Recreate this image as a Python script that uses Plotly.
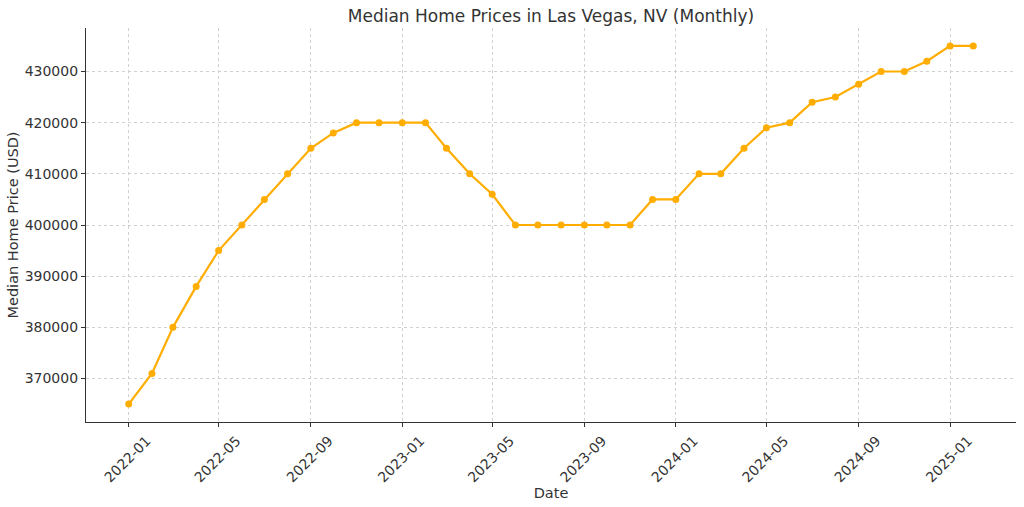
import plotly.graph_objects as go
import pandas as pd

dates = pd.date_range("2022-01-01", "2025-02-01", freq="MS")
prices = [365000, 371000, 380000, 388000, 395000, 400000, 405000, 410000, 415000, 418000,
          420000, 420000, 420000, 420000, 415000, 410000, 406000, 400000, 400000, 400000,
          400000, 400000, 400000, 405000, 405000, 410000, 410000, 415000, 419000, 420000,
          424000, 425000, 427500, 430000, 430000, 432000, 435000, 435000]
title = "Median Home Prices in Las Vegas, NV (Monthly)"
x_label = "Date"
y_label = "Median Home Price (USD)"

fig = go.Figure()
fig.add_trace(go.Scatter(
    x=dates, y=prices, mode="lines+markers",
    line=dict(color="#FFAD00", width=2.2),
    marker=dict(color="#FFAD00", size=7),
))

font = "DejaVu Sans"
fig.update_layout(
    width=1024, height=507,
    margin=dict(l=86, r=8, t=28, b=85),
    paper_bgcolor="white", plot_bgcolor="white",
    showlegend=False,
    font=dict(family=font, size=14, color="#333333"),
    title=dict(text=title, x=(86 + 1016) / 2 / 1024, xanchor="center",
               y=1 - 16 / 507, yanchor="middle",
               font=dict(size=17, color="#333333")),
)
fig.update_xaxes(
    range=["2021-11-05", "2025-03-30"],
    tick0="2022-01-01", dtick="M4", tickformat="%Y-%m",
    tickangle=-45, ticklabelshift=18,
    ticks="outside", ticklen=4, tickcolor="#333333",
    showline=True, linecolor="#333333", linewidth=1.2,
    showgrid=True, gridcolor="#d0d0d0", gridwidth=0.8, griddash="3px,3px",
    zeroline=False, automargin=False,
    title=dict(text=x_label, font=dict(size=14.5), standoff=2),
)
fig.update_yaxes(
    range=[361500, 438500],
    tickvals=[370000, 380000, 390000, 400000, 410000, 420000, 430000],
    tickformat="d",
    ticks="outside", ticklen=4, tickcolor="#333333",
    showline=True, linecolor="#333333", linewidth=1.2,
    showgrid=True, gridcolor="#d0d0d0", gridwidth=0.8, griddash="3px,3px",
    zeroline=False, automargin=False,
    title=dict(text=y_label, font=dict(size=14.5), standoff=2),
)

fig.write_html("out.html")
